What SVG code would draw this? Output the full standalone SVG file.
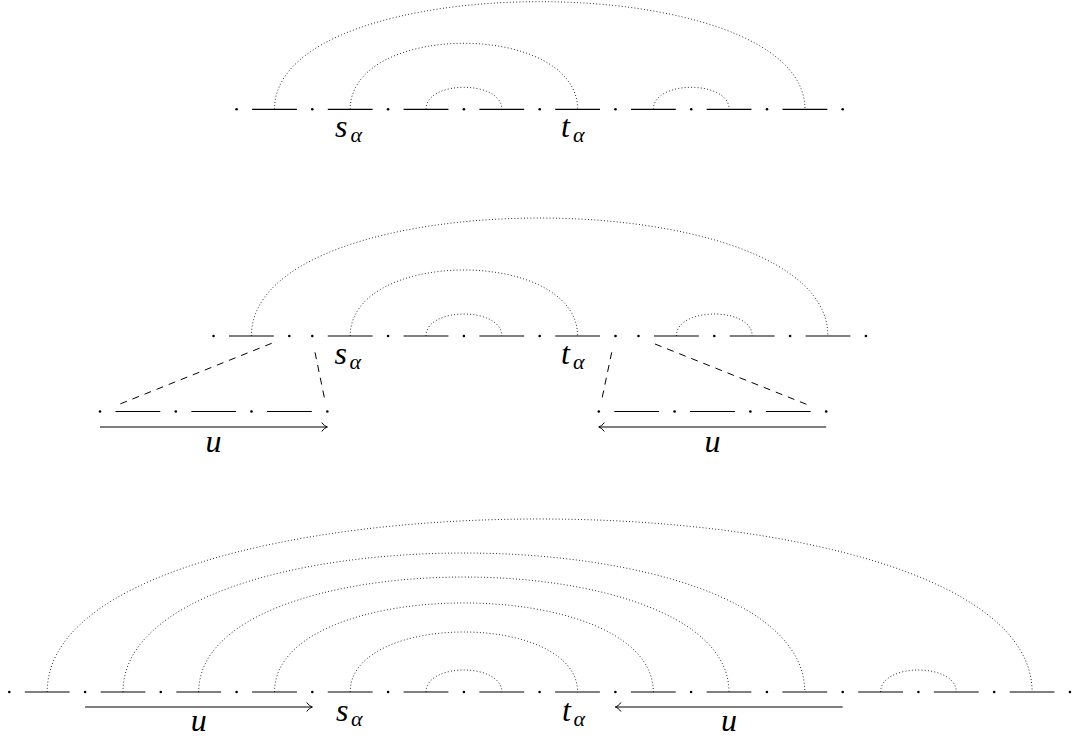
<svg xmlns="http://www.w3.org/2000/svg" width="1076" height="740" viewBox="0 0 1076 740">
<defs>
<style>
.seg{stroke:#000;stroke-width:1.2;fill:none}
.arc{fill:none;stroke:#000;stroke-width:0.9;stroke-dasharray:0.9 2.3}
.dash{fill:none;stroke:#000;stroke-width:1;stroke-dasharray:7 6}
.arr{fill:none;stroke:#000;stroke-width:1.1;marker-end:url(#to)}
.dot{fill:#000}
.lbl{font-family:"Liberation Serif","DejaVu Serif",serif;font-style:italic;font-size:32px;fill:#000}
.sub{font-size:22px}
</style>
<marker id="to" markerUnits="userSpaceOnUse" markerWidth="12" markerHeight="12" viewBox="-8 -6 10 12" refX="0" refY="0" orient="auto" overflow="visible">
<path d="M-5.5,-4.5 C-4,-2 -1.5,-0.6 0,0 C-1.5,0.6 -4,2 -5.5,4.5" fill="none" stroke="#000" stroke-width="1"/>
</marker>
</defs>
<rect width="1076" height="740" fill="#fff"/>

<g id="row-top">
<g class="dot">
<circle cx="236.6" cy="109.3" r="1.3"/><circle cx="312.3" cy="109.3" r="1.3"/><circle cx="388.1" cy="109.3" r="1.3"/><circle cx="463.9" cy="109.3" r="1.3"/><circle cx="539.7" cy="109.3" r="1.3"/><circle cx="615.5" cy="109.3" r="1.3"/><circle cx="691.2" cy="109.3" r="1.3"/><circle cx="767" cy="109.3" r="1.3"/><circle cx="842.7" cy="109.3" r="1.3"/>
</g>
<path class="seg" d="M252.1 109.3H296.9M327.8 109.3H372.6M403.6 109.3H448.4M479.4 109.3H524.2M555.2 109.3H600M631 109.3H675.8M706.7 109.3H751.5M782.5 109.3H827.3"/>
<text class="lbl" x="335" y="137">s</text><text class="lbl sub" x="350.5" y="142">α</text>
<text class="lbl" x="561" y="137">t</text><text class="lbl sub" x="573" y="142">α</text>
</g>

<g id="row-middle">
<g class="dot">
<circle cx="213.5" cy="336" r="1.3"/><circle cx="289.3" cy="336" r="1.3"/><circle cx="312.3" cy="336" r="1.3"/><circle cx="388.1" cy="336" r="1.3"/><circle cx="463.9" cy="336" r="1.3"/><circle cx="539.7" cy="336" r="1.3"/><circle cx="615.5" cy="336" r="1.3"/><circle cx="638.5" cy="336" r="1.3"/><circle cx="714.3" cy="336" r="1.3"/><circle cx="790.1" cy="336" r="1.3"/><circle cx="865.9" cy="336" r="1.3"/>
</g>
<path class="seg" d="M229 336H273.8M327.8 336H372.6M403.6 336H448.4M479.4 336H524.2M555.2 336H600M654 336H698.8M729.8 336H774.6M805.6 336H850.4"/>
<text class="lbl" x="334.5" y="363.5">s</text><text class="lbl sub" x="349.5" y="368.5">α</text>
<text class="lbl" x="561" y="363.5">t</text><text class="lbl sub" x="573" y="368.5">α</text>
</g>

<g id="row-u-left">
<g class="dot">
<circle cx="100" cy="411.5" r="1.3"/><circle cx="175.8" cy="411.5" r="1.3"/><circle cx="251.5" cy="411.5" r="1.3"/><circle cx="327.3" cy="411.5" r="1.3"/>
</g>
<path class="seg" d="M115.5 411.5H160.3M191.3 411.5H236.1M267 411.5H311.8"/>
<text class="lbl" x="213.6" y="452" text-anchor="middle">u</text>
</g>

<g id="row-u-right">
<g class="dot">
<circle cx="598.8" cy="411.5" r="1.3"/><circle cx="674.6" cy="411.5" r="1.3"/><circle cx="750.4" cy="411.5" r="1.3"/><circle cx="826.2" cy="411.5" r="1.3"/>
</g>
<path class="seg" d="M614.3 411.5H659.1M690.1 411.5H734.9M765.9 411.5H810.7"/>
<text class="lbl" x="712.5" y="452" text-anchor="middle">u</text>
</g>

<g id="row-bottom">
<g class="dot">
<circle cx="9.3" cy="692" r="1.3"/><circle cx="85.1" cy="692" r="1.3"/><circle cx="160.8" cy="692" r="1.3"/><circle cx="236.6" cy="692" r="1.3"/><circle cx="312.3" cy="692" r="1.3"/><circle cx="388.1" cy="692" r="1.3"/><circle cx="463.9" cy="692" r="1.3"/><circle cx="539.6" cy="692" r="1.3"/><circle cx="615.4" cy="692" r="1.3"/><circle cx="691.1" cy="692" r="1.3"/><circle cx="766.9" cy="692" r="1.3"/><circle cx="842.7" cy="692" r="1.3"/><circle cx="918.4" cy="692" r="1.3"/><circle cx="994.2" cy="692" r="1.3"/><circle cx="1069.9" cy="692" r="1.3"/>
</g>
<path class="seg" d="M24.8 692H69.6M100.6 692H145.4M176.3 692H221.1M252.1 692H296.9M327.8 692H372.6M403.6 692H448.4M479.4 692H524.2M555.1 692H599.9M630.9 692H675.7M706.6 692H751.4M782.4 692H827.2M858.2 692H903M933.9 692H978.7M1009.7 692H1054.5"/>
<text class="lbl" x="336" y="721">s</text><text class="lbl sub" x="351" y="726">α</text>
<text class="lbl" x="562" y="721">t</text><text class="lbl sub" x="573.5" y="726">α</text>
<text class="lbl" x="198.7" y="731" text-anchor="middle">u</text>
<text class="lbl" x="729" y="731" text-anchor="middle">u</text>
</g>

<g id="connectors">
<path class="arc" d="M274.5 109.3C274.5 -34.2 805 -34.2 805 109.3"/>
<path class="arc" d="M350.2 109.3C350.2 21.3 577.6 21.3 577.6 109.3"/>
<path class="arc" d="M426 109.3C426 80 501.8 80 501.8 109.3"/>
<path class="arc" d="M653.4 109.3C653.4 80 729.1 80 729.1 109.3"/>

<path class="arc" d="M251.4 336C251.4 178.7 827.9 178.7 827.9 336"/>
<path class="arc" d="M350.2 336C350.2 248 577.6 248 577.6 336"/>
<path class="arc" d="M426 336C426 306.7 501.8 306.7 501.8 336"/>
<path class="arc" d="M676.4 336C676.4 306.7 752.2 306.7 752.2 336"/>

<path class="dash" d="M271.7 343.3L115 406"/>
<path class="dash" d="M315 352.3L325 400.7"/>
<path class="dash" d="M611.7 352.3L601.7 400"/>
<path class="dash" d="M655 344L810.7 406"/>

<path class="arr" d="M100 427H327.3"/>
<path class="arr" d="M826.2 427H598.8"/>

<path class="arc" d="M47.2 692C47.2 461.3 1032.1 461.3 1032.1 692"/>
<path class="arc" d="M123 692C123 506.7 804.8 506.7 804.8 692"/>
<path class="arc" d="M198.7 692C198.7 538.7 729 538.7 729 692"/>
<path class="arc" d="M274.5 692C274.5 573.3 653.3 573.3 653.3 692"/>
<path class="arc" d="M350.2 692C350.2 612 577.6 612 577.6 692"/>
<path class="arc" d="M426 692C426 662.7 501.8 662.7 501.8 692"/>
<path class="arc" d="M880.6 692C880.6 662.7 956.3 662.7 956.3 692"/>

<path class="arr" d="M85.1 707H312.3"/>
<path class="arr" d="M842.7 707H615.4"/>
</g>
</svg>
